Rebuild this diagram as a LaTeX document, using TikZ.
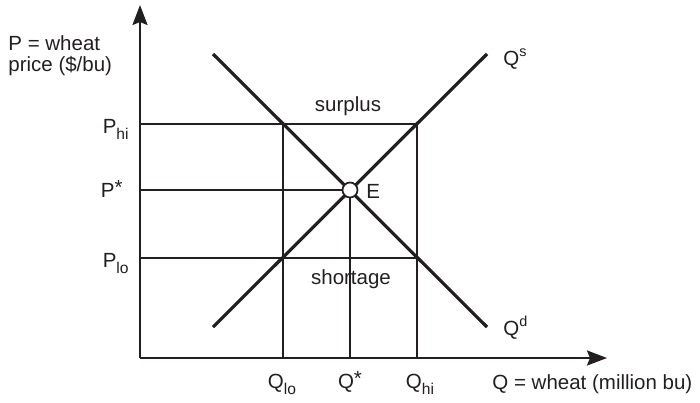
\documentclass[tikz,border=0pt]{standalone}
\usepackage{fontspec}
\setmainfont{Liberation Sans}
\usetikzlibrary{arrows.meta}
\definecolor{ink}{HTML}{231F20}
\newcommand{\lsub}[1]{\raisebox{-0.3em}{\fontsize{7.8}{9}\selectfont #1}}
\newcommand{\lsup}[1]{\raisebox{0.4em}{\fontsize{7.2}{9}\selectfont #1}}
\newcommand{\last}{\raisebox{0.1em}{*}}
\begin{document}
\begin{tikzpicture}[x=0.5pt,y=-0.5pt,
  lbl/.style={font=\fontsize{10.25}{12}\selectfont, inner sep=0pt, text=ink},
  curve/.style={line width=1.6pt, draw=ink},
  guide/.style={line width=0.85pt, draw=ink},
  axis/.style={line width=1.1pt, draw=ink, -{Stealth[length=10pt,width=7.5pt,inset=1.5pt]}},
  eq/.style={circle, draw=ink, fill=white, line width=0.85pt, minimum size=7.5pt, inner sep=0pt}]
\useasboundingbox (0,0) rectangle (700,402);
% axes
\coordinate (O) at (140,358);
\coordinate (Ytip) at (140,5);
\coordinate (Xtip) at (607,358);
% curve ends
\coordinate (S0) at (213,327);
\coordinate (S1) at (487,54);
\coordinate (D0) at (213,54);
\coordinate (D1) at (487,327);
% intersections
\coordinate (HL) at (283,124);
\coordinate (HH) at (417,124);
\coordinate (LL) at (283,258);
\coordinate (LH) at (417,258);
\coordinate (Ec) at (350,190);
% guide lines
\draw[guide] (O |- HH) -- (HH);
\draw[guide] (O |- Ec) -- (Ec);
\draw[guide] (O |- LH) -- (LH);
\draw[guide] (HL) -- (O -| HL);
\draw[guide] (Ec) -- (O -| Ec);
\draw[guide] (HH) -- (O -| HH);
% axes
\draw[axis] (O) -- (Ytip);
\draw[axis] (O) -- (Xtip);
% supply and demand
\draw[curve] (S0) -- (S1);
\draw[curve] (D0) -- (D1);
\node[eq] (E) at (Ec) {};
% labels
\node[lbl, anchor=base west] (pl1) at (8,50) {P = wheat};
\node[lbl, anchor=base west] (pl2) at (8,71) {price (\$/bu)};
\node[lbl, anchor=base east] (phi) at (129,133) {P\lsub{hi}};
\node[lbl, anchor=base east] (pst) at (123,197) {P\last};
\node[lbl, anchor=base east] (plo) at (129,267) {P\lsub{lo}};
\node[lbl, anchor=base] (qlo) at (282,388) {Q\lsub{lo}};
\node[lbl, anchor=base] (qst) at (350,388) {Q\last};
\node[lbl, anchor=base] (qhi) at (420,388) {Q\lsub{hi}};
\node[lbl, anchor=base west] (ql) at (492,389) {Q = wheat (million bu)};
\node[lbl, anchor=base west] (qs) at (503,65) {Q\lsup{s}};
\node[lbl, anchor=base west] (qd) at (503,335) {Q\lsup{d}};
\node[lbl, anchor=base] (sur) at (348,111) {surplus};
\node[lbl, anchor=base] (sho) at (351,284) {shortage};
\node[lbl, anchor=base west] (el) at (366,198) {E};
\end{tikzpicture}
\end{document}
